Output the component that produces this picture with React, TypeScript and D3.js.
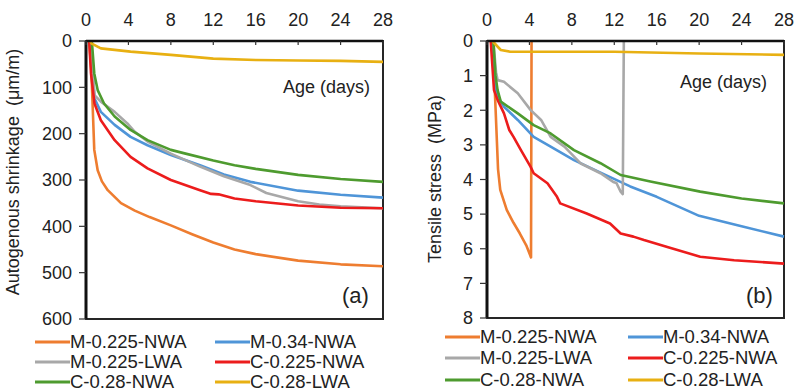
import React from "react";
import * as d3 from "d3";

type Pt = [number, number];

// ---------- Data (a): Autogenous shrinkage (μm/m) vs age (days)
const shrinkM0225NWA: Pt[] = [[0.3,0],[0.5,60],[0.63,142],[0.78,235],[1.1,279],[1.5,303],[2.05,322],[3.3,350],[4.6,366],[6,380],[8,398],[10,417],[12,435],[14,450],[16,460],[20,474],[24,482],[28,486]];
const shrinkM034NWA: Pt[] = [[0.5,0],[0.65,70],[0.8,124],[1.4,153],[2.7,181],[4.2,207],[5.8,225],[8,246],[10.75,268],[13,288],[15.5,304],[20,323],[24,332],[28,338]];
const shrinkM0225LWA: Pt[] = [[0.5,0],[0.65,70],[0.8,117],[1.4,131],[2.7,153],[3.9,178],[4.6,196],[5.8,217],[8,243],[10.75,271],[13,292],[15.5,311],[17,328],[20,346],[22,353],[24,357],[28,361]];
const shrinkC0225NWA: Pt[] = [[0.3,0],[0.47,70],[0.8,135],[1.4,171],[2.7,214],[4.2,250],[5.8,275],[8,300],[10.75,322],[11.8,330],[12.5,331],[14,340],[16,346],[20,355],[24,360],[28,361]];
const shrinkC028NWA: Pt[] = [[0.55,0],[0.78,70],[1.1,106],[1.7,135],[2.7,163],[4.2,192],[5.8,214],[8,235],[9.2,242],[12,258],[14,268],[16,276],[20,289],[24,298],[28,304]];
const shrinkC028LWA: Pt[] = [[0.4,0],[0.5,5],[1.4,16],[4.2,23],[8,30],[12,38],[16,41],[20,42],[24,43],[28,45]];

// ---------- Data (b): Tensile stress (MPa) vs age (days)
const stressM0225NWA: Pt[] = [[0.55,0],[0.8,1.9],[1.04,3.7],[1.25,4.3],[1.86,4.88],[2.5,5.25],[3.1,5.56],[3.7,5.9],[4.15,6.25],[4.2,0]];
const stressM034NWA: Pt[] = [[0.5,0],[0.7,1.2],[1.0,1.61],[1.6,1.9],[2.9,2.28],[4.4,2.77],[6,3.05],[8.2,3.44],[10.7,3.8],[13.5,4.2],[16,4.5],[20,5.05],[24,5.35],[28,5.65]];
const stressM0225LWA: Pt[] = [[0.6,0],[0.85,0.9],[1.0,1.13],[1.6,1.18],[2.9,1.51],[4.1,1.99],[5.1,2.28],[6,2.77],[7.3,3.05],[8.8,3.53],[10.7,3.82],[11.9,4.07],[12.2,4.1],[12.6,4.35],[12.8,4.42],[12.9,0]];
const stressC0225NWA: Pt[] = [[0.35,0],[0.66,1.42],[1.0,1.7],[1.6,2.09],[2.1,2.57],[2.5,2.77],[3.2,3.15],[4.1,3.63],[4.4,3.82],[5.7,4.11],[6.6,4.5],[6.9,4.69],[9.4,4.98],[11.6,5.27],[12.6,5.56],[13.8,5.65],[14.8,5.75],[17,5.95],[20.1,6.23],[23.3,6.33],[28,6.43]];
const stressC028NWA: Pt[] = [[0.6,0],[0.8,1.0],[1.0,1.42],[1.3,1.75],[2.9,2.09],[4.4,2.43],[6,2.67],[8.2,3.15],[10.7,3.53],[12.6,3.87],[15.4,4.06],[20.1,4.35],[24,4.55],[28,4.69]];
const stressC028LWA: Pt[] = [[0.5,0],[1.3,0.26],[2.2,0.31],[12,0.31],[20,0.36],[28,0.4]];

const seriesNames = ["M-0.225-NWA", "M-0.34-NWA", "M-0.225-LWA", "C-0.225-NWA", "C-0.28-NWA", "C-0.28-LWA"];
const seriesColors = ["#EE7D30", "#4F95D8", "#A8A8A8", "#EC1C1C", "#4E9B2F", "#E8B012"];

const xTicks = [0, 4, 8, 12, 16, 20, 24, 28];
const yTicksA = [0, 100, 200, 300, 400, 500, 600];
const yTicksB = [0, 1, 2, 3, 4, 5, 6, 7, 8];

const FONT = "'Liberation Sans', Arial, sans-serif";
const FS = 18;

interface PanelProps {
  left: number; right: number; top: number; bottom: number;
  yMax: number; yTicks: number[]; series: Pt[][];
  yLabel: string; yLabelX: number; yLabelY: number;
  tag: string; tagX: number; ageX: number; ageY: number;
  legX: number; legX2: number; legRows: number[];
}

function Panel(p: PanelProps) {
  const x = d3.scaleLinear().domain([0, 28]).range([p.left, p.right]);
  const y = d3.scaleLinear().domain([0, p.yMax]).range([p.top, p.bottom]);
  const line = d3.line<Pt>().x(d => x(d[0])).y(d => y(d[1]));
  return (
    <g fontFamily={FONT} fill="#222">
      {/* frame */}
      <rect x={p.left} y={p.top} width={p.right - p.left} height={p.bottom - p.top} fill="none" stroke="#262626" strokeWidth={2} />
      {/* series */}
      {p.series.map((s, i) => (
        <path key={i} d={line(s) || ""} fill="none" stroke={seriesColors[i]} strokeWidth={2.6} strokeLinejoin="round" />
      ))}
      {/* axes */}
      <line x1={p.left} x2={p.left} y1={p.top} y2={p.bottom} stroke="#111" strokeWidth={3} />
      <line x1={p.left} x2={p.right} y1={p.top} y2={p.top} stroke="#111" strokeWidth={2.4} />
      {xTicks.map(t => (
        <g key={"x" + t}>
          <line x1={x(t)} x2={x(t)} y1={p.top} y2={p.top + 4} stroke="#333" strokeWidth={1.2} />
          <text x={x(t)} y={26} textAnchor="middle" fontSize={FS}>{t}</text>
        </g>
      ))}
      {p.yTicks.map(t => (
        <g key={"y" + t}>
          <line x1={p.left - 7} x2={p.left} y1={y(t)} y2={y(t)} stroke="#333" strokeWidth={1.2} />
          <text x={p.left - 14} y={y(t)} dy="0.35em" textAnchor="end" fontSize={FS}>{t}</text>
        </g>
      ))}
      <text transform={`translate(${p.yLabelX},${p.yLabelY}) rotate(-90)`} textAnchor="middle" fontSize={FS} xmlSpace="preserve">{p.yLabel}</text>
      <text x={p.ageX} y={p.ageY} dy="0.35em" fontSize={FS}>Age (days)</text>
      <text x={p.tagX} y={295} dy="0.35em" fontSize={22}>{p.tag}</text>
      {/* legend */}
      {seriesNames.map((n, i) => {
        const col = i % 2;
        const row = Math.floor(i / 2);
        const lx = col === 0 ? p.legX : p.legX2;
        const ly = p.legRows[row];
        return (
          <g key={n}>
            <line x1={lx} x2={lx + 35} y1={ly} y2={ly} stroke={seriesColors[i]} strokeWidth={3} />
            <text x={lx + 35} y={ly} dy="0.35em" fontSize={18.5}>{n}</text>
          </g>
        );
      })}
    </g>
  );
}

export default function App() {
  return (
    <svg width={795} height={391} style={{ position: "absolute", left: 0, top: 0, background: "#fff" }}>
      <rect width={795} height={391} fill="#fff" />
      <Panel left={86} right={383} top={41} bottom={319} yMax={600} yTicks={yTicksA}
        series={[shrinkM0225NWA, shrinkM034NWA, shrinkM0225LWA, shrinkC0225NWA, shrinkC028NWA, shrinkC028LWA]}
        yLabel="Autogenous shrinkage  (μm/m)" yLabelX={19} yLabelY={172}
        tag="(a)" tagX={342} ageX={283} ageY={87}
        legX={35} legX2={215} legRows={[342, 362, 382]} />
      <Panel left={487} right={784} top={41} bottom={318} yMax={8} yTicks={yTicksB}
        series={[stressM0225NWA, stressM034NWA, stressM0225LWA, stressC0225NWA, stressC028NWA, stressC028LWA]}
        yLabel="Tensile stress  (MPa)" yLabelX={441} yLabelY={179}
        tag="(b)" tagX={746} ageX={680} ageY={82}
        legX={445} legX2={628} legRows={[337, 358, 380]} />
    </svg>
  );
}
